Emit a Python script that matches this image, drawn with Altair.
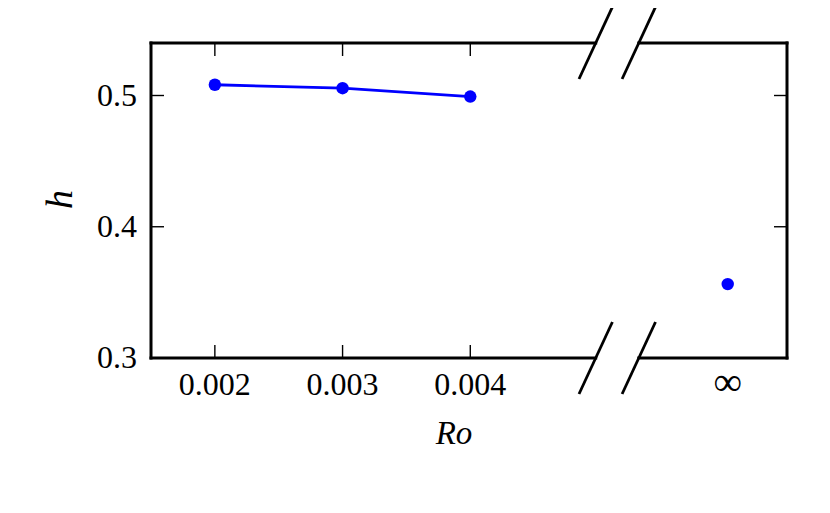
import altair as alt
import pandas as pd

# ---- data ----
ro_values = [0.002, 0.003, 0.004]
h_values = [0.5082, 0.5056, 0.4992]
inf_slot = [0.6]          # position of the "infinity" point inside the right (broken) panel
inf_h = [0.3563]
x_ticks = [0.002, 0.003, 0.004]
x_tick_labels = ["0.002", "0.003", "0.004"]
y_ticks = [0.3, 0.4, 0.5]
y_tick_labels = ["0.3", "0.4", "0.5"]
inf_label = ["\u221e"]

BLUE = "#0000ff"
FONT = "Liberation Serif"
W, H = 636, 315
LEFT_END = 444.7
RIGHT_START = 487.8
TICK = 13

xl = alt.Scale(domain=[0.0015, 0.005], range=[0, 447])
xr = alt.Scale(domain=[0, 1], range=[RIGHT_START, W])
ys = alt.Scale(domain=[0.3, 0.54])

df_line = pd.DataFrame({"Ro": ro_values, "h": h_values})
df_inf = pd.DataFrame({"slot": inf_slot, "h": inf_h, "label": inf_label})
df_xt = pd.DataFrame({"v": x_ticks, "label": x_tick_labels})
df_yt = pd.DataFrame({"v": y_ticks, "label": y_tick_labels})
one = pd.DataFrame({"a": [0]})

# ---- left panel ----
line = alt.Chart(df_line).mark_line(color=BLUE, strokeWidth=2.8).encode(
    x=alt.X("Ro:Q", scale=xl, axis=None), y=alt.Y("h:Q", scale=ys, axis=None))
pts = alt.Chart(df_line).mark_circle(color=BLUE, size=155, opacity=1).encode(
    x=alt.X("Ro:Q", scale=xl, axis=None), y=alt.Y("h:Q", scale=ys, axis=None))
top_ticks = alt.Chart(df_xt).mark_rule(color="black", strokeWidth=1.4).encode(
    x=alt.X("v:Q", scale=xl, axis=None), y=alt.value(0), y2=alt.value(TICK))
bot_ticks = alt.Chart(df_xt).mark_rule(color="black", strokeWidth=1.4).encode(
    x=alt.X("v:Q", scale=xl, axis=None), y=alt.value(H - TICK), y2=alt.value(H))
left_yticks = alt.Chart(df_yt).mark_rule(color="black", strokeWidth=1.4).encode(
    y=alt.Y("v:Q", scale=ys, axis=None), x=alt.value(0), x2=alt.value(TICK))
x_labels = alt.Chart(df_xt).mark_text(
    font=FONT, fontSize=32, align="center", baseline="alphabetic", color="black").encode(
    x=alt.X("v:Q", scale=xl, axis=None), y=alt.value(351.5), text="label:N")
y_labels = alt.Chart(df_yt).mark_text(
    font=FONT, fontSize=32, align="right", baseline="middle", color="black").encode(
    y=alt.Y("v:Q", scale=ys, axis=None), x=alt.value(-14), text="label:N")

left = alt.layer(line, pts, top_ticks, bot_ticks, left_yticks, x_labels, y_labels)

# ---- right panel ----
inf_pt = alt.Chart(df_inf).mark_circle(color=BLUE, size=155, opacity=1).encode(
    x=alt.X("slot:Q", scale=xr, axis=None), y=alt.Y("h:Q", scale=ys, axis=None))
inf_text = alt.Chart(df_inf).mark_text(
    font=FONT, fontSize=40, align="center", baseline="alphabetic", color="black").encode(
    x=alt.X("slot:Q", scale=xr, axis=None), y=alt.value(351.5), text="label:N")
right_yticks = alt.Chart(df_yt).mark_rule(color="black", strokeWidth=1.4).encode(
    y=alt.Y("v:Q", scale=ys, axis=None), x=alt.value(W - TICK), x2=alt.value(W))

right = alt.layer(inf_pt, inf_text, right_yticks)

# ---- frame, break marks and titles ----
def rule(x, y, x2=None, y2=None, sw=3, cap="square"):
    enc = {"x": alt.value(x), "y": alt.value(y)}
    if x2 is not None:
        enc["x2"] = alt.value(x2)
    if y2 is not None:
        enc["y2"] = alt.value(y2)
    return alt.Chart(one).mark_rule(color="black", strokeWidth=sw, strokeCap=cap).encode(**enc)

spines = [
    rule(0, 0, y2=H),
    rule(0, 0, x2=LEFT_END),
    rule(0, H, x2=LEFT_END),
    rule(RIGHT_START, 0, x2=W),
    rule(RIGHT_START, H, x2=W),
    rule(W, 0, y2=H),
]
slashes = []
for cx in (LEFT_END, RIGHT_START):
    for cy in (0, H):
        slashes.append(rule(cx - 16.7, cy + 36, x2=cx + 16.7, y2=cy - 36, sw=2.8, cap="butt"))

ro_title = alt.Chart(one).mark_text(
    text="Ro", font=FONT, fontSize=33, fontStyle="italic", align="center",
    baseline="alphabetic", color="black").encode(x=alt.value(303), y=alt.value(400.5))
h_title = alt.Chart(one).mark_text(
    text="h", font=FONT, fontSize=38, fontStyle="italic", align="center",
    baseline="alphabetic", angle=270, color="black").encode(x=alt.value(-79), y=alt.value(156.5))

deco = alt.layer(*spines, *slashes, ro_title, h_title)

chart = alt.layer(left, right, deco).resolve_scale(x="independent").properties(
    width=W, height=H,
    padding={"left": 143, "top": 35, "right": 35, "bottom": 147},
    autosize=alt.AutoSizeParams(type="none"),
    background="white",
).configure_view(stroke=None)

chart.save("out.html", embed_options={"renderer": "svg", "actions": False})
